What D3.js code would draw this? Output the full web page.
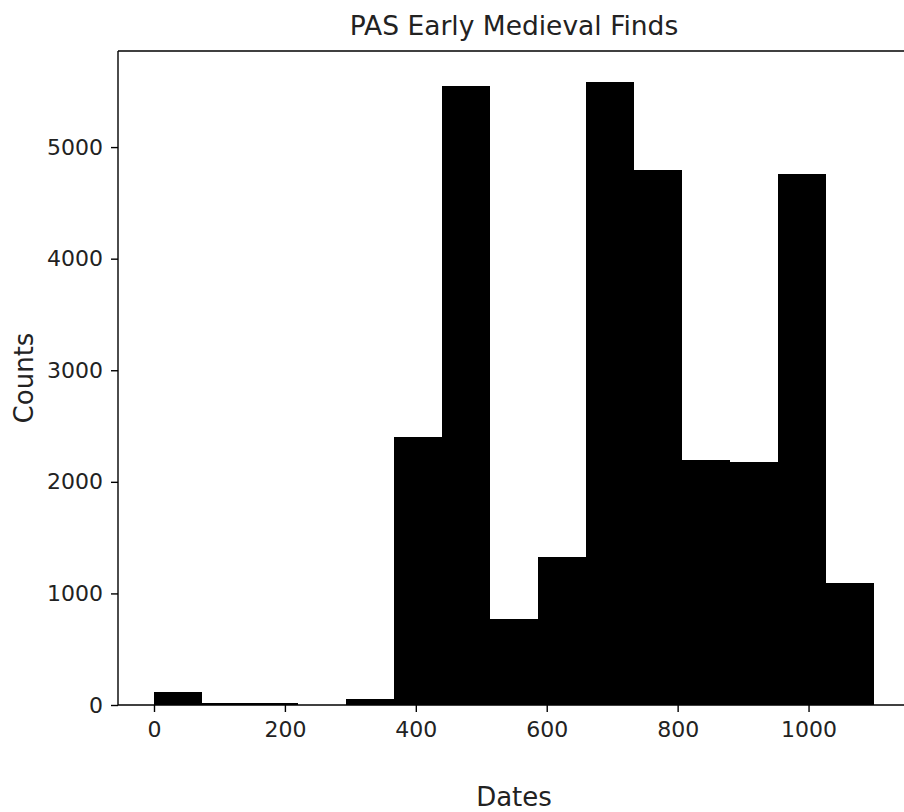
<!DOCTYPE html>
<html>
<head>
<meta charset="utf-8">
<script src="https://cdn.jsdelivr.net/npm/d3@7"></script>
<style>
  html, body { margin: 0; padding: 0; background: #fff; overflow: hidden; }
  svg { display: block; font-family: "DejaVu Sans", sans-serif; }
</style>
</head>
<body>
<svg id="chart" width="904" height="812"></svg>
<script>
// Histogram of find dates: 15 equal bins spanning 0–1100
const dateMin = 0;
const dateMax = 1100;
const binCounts = [115, 20, 18, 0, 51, 2403, 5550, 767, 1323, 5582, 4798, 2200, 2179, 4762, 1090];
const xTickValues = [0, 200, 400, 600, 800, 1000];
const yTickValues = [0, 1000, 2000, 3000, 4000, 5000];
const titleText = "PAS Early Medieval Finds";
const xLabel = "Dates";
const yLabel = "Counts";

const binWidth = (dateMax - dateMin) / binCounts.length;
const bins = binCounts.map((c, i) => ({
  x0: dateMin + i * binWidth,
  x1: dateMin + (i + 1) * binWidth,
  count: c
}));

const width = 904;
const svg = d3.select("#chart");
const plot = { left: 118, top: 51, right: 910, bottom: 705 };

// 5% padding on x, 5% headroom on y
const xPad = (dateMax - dateMin) * 0.05;
const x = d3.scaleLinear()
  .domain([dateMin - xPad, dateMax + xPad])
  .range([plot.left, plot.right]);
const y = d3.scaleLinear()
  .domain([0, d3.max(binCounts) * 1.05])
  .range([plot.bottom, plot.top]);

// bars
svg.append("g")
  .selectAll("rect")
  .data(bins)
  .join("rect")
  .attr("x", d => x(d.x0))
  .attr("width", d => x(d.x1) - x(d.x0))
  .attr("y", d => y(d.count))
  .attr("height", d => y(0) - y(d.count))
  .attr("fill", "#000")
  .attr("shape-rendering", "crispEdges");

// spines: left, top and bottom; the right one lies beyond the canvas
const spineRight = Math.min(plot.right, width);
const spines = svg.append("g")
  .attr("stroke", "#000")
  .attr("stroke-width", 1.4)
  .attr("fill", "none");
spines.append("line").attr("x1", plot.left).attr("x2", plot.left).attr("y1", plot.top).attr("y2", plot.bottom);
spines.append("line").attr("x1", plot.left).attr("x2", spineRight).attr("y1", plot.top).attr("y2", plot.top);
spines.append("line").attr("x1", plot.left).attr("x2", spineRight).attr("y1", plot.bottom).attr("y2", plot.bottom);

// axes
const tickFont = 22;
const xAxis = svg.append("g")
  .attr("transform", `translate(0,${plot.bottom})`)
  .call(d3.axisBottom(x).tickValues(xTickValues).tickSize(7).tickPadding(9).tickFormat(d3.format("d")));
const yAxis = svg.append("g")
  .attr("transform", `translate(${plot.left},0)`)
  .call(d3.axisLeft(y).tickValues(yTickValues).tickSize(7).tickPadding(8).tickFormat(d3.format("d")));

[xAxis, yAxis].forEach(g => {
  g.select(".domain").remove();
  g.selectAll(".tick line").attr("stroke", "#000").attr("stroke-width", 1.4);
  g.selectAll(".tick text")
    .attr("fill", "#222")
    .style("font-size", tickFont + "px")
    .style("font-family", "DejaVu Sans, sans-serif");
});

// title and axis labels
svg.append("text")
  .attr("x", (plot.left + plot.right) / 2)
  .attr("y", 35)
  .attr("text-anchor", "middle")
  .attr("fill", "#222")
  .style("font-size", "26.5px")
  .text(titleText);

svg.append("text")
  .attr("x", (plot.left + plot.right) / 2)
  .attr("y", 806)
  .attr("text-anchor", "middle")
  .attr("fill", "#222")
  .style("font-size", "26px")
  .text(xLabel);

svg.append("text")
  .attr("transform", `translate(33,${(plot.top + plot.bottom) / 2}) rotate(-90)`)
  .attr("text-anchor", "middle")
  .attr("fill", "#222")
  .style("font-size", "26px")
  .text(yLabel);
</script>
</body>
</html>
